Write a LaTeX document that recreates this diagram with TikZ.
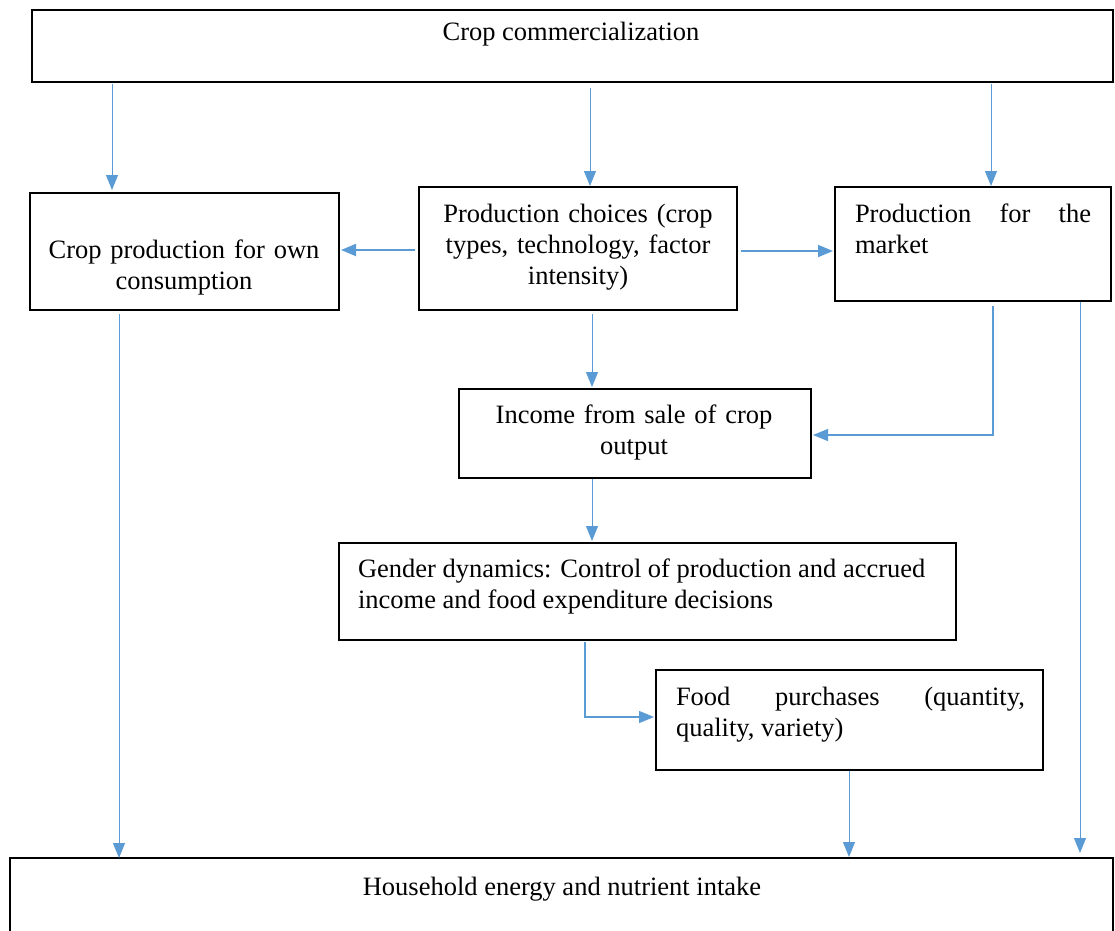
\documentclass[tikz,border=0pt]{standalone}
\usepackage{fontspec}
\setmainfont{Liberation Serif}
\usetikzlibrary{arrows.meta}
\definecolor{arrblue}{HTML}{5B9BD5}
\begin{document}
\begin{tikzpicture}[x=1pt,y=-1pt,
  box/.style={draw=black,line width=1.4pt,inner sep=0pt,outer sep=0pt,anchor=north west},
  txt/.style={inner sep=0pt,outer sep=0pt,font=\fontsize{26.5}{31}\selectfont},
  arr/.style={draw=arrblue,line width=1.3pt,-{Triangle[length=15pt,width=12pt]}}]
\useasboundingbox (0,0) rectangle (1115,930);
\clip (0,0) rectangle (1115,930);
% boxes
\node[box,minimum width=1081pt,minimum height=72pt] (top) at (32,10) {};
\node[box,minimum width=309pt,minimum height=117pt] (own) at (30,193) {};
\node[box,minimum width=318pt,minimum height=123pt] (choice) at (419,187) {};
\node[box,minimum width=276pt,minimum height=114pt] (market) at (835,187) {};
\node[box,minimum width=352pt,minimum height=89pt] (income) at (459,389) {};
\node[box,minimum width=617pt,minimum height=97pt] (gender) at (339,543) {};
\node[box,minimum width=387pt,minimum height=100pt] (food) at (656,670) {};
\node[box,minimum width=1103pt,minimum height=80pt] (house) at (10,858) {};
% texts
\node[txt,anchor=base] (ttop) at (571,40) {Crop commercialization};
\node[txt,anchor=base,align=center,text width=300pt] (town) at (184,258) {Crop production for own\\consumption};
\node[txt,anchor=base,align=center,text width=310pt] (tchoice) at (578,222) {Production choices (crop\\types, technology, factor\\intensity)};
\node[txt,anchor=base west,align=flush left,text width=236pt] (tmarket) at (855,222) {Production\hfill for\hfill the\\market};
\node[txt,anchor=base,align=center,text width=340pt] (tincome) at (634,423) {Income from sale of crop\\output};
\node[txt,anchor=base west,align=flush left,text width=590pt] (tgender) at (358,577) {Gender dynamics: Control of production and accrued\\income and food expenditure decisions};
\node[txt,anchor=base west,align=flush left,text width=349pt] (tfood) at (676,705) {Food\hfill purchases\hfill (quantity,\\quality, variety)};
\node[txt,anchor=base] (thouse) at (562,895) {Household energy and nutrient intake};
% x references
\coordinate (x112) at (112,0);
\coordinate (x590) at (590,0);
\coordinate (x991) at (991,0);
\coordinate (x592) at (592,0);
\coordinate (x993) at (993,0);
\coordinate (x585) at (585,0);
\coordinate (x849) at (849,0);
\coordinate (x119) at (119,0);
\coordinate (x1080) at (1080,0);
\coordinate (y250) at (0,250);
\coordinate (y251) at (0,251);
\coordinate (y435) at (0,435);
\coordinate (y717) at (0,717);
\coordinate (bend1) at (993,435);
\coordinate (bend2) at (585,717);
\coordinate (end12) at (1080,853);
% connectors
\draw[arr,line width=1pt,shorten <=2pt,shorten >=3pt] (top.south -| x112) -- (own.north -| x112);
\draw[arr,line width=1pt,shorten <=6pt,shorten >=1pt] (top.south -| x590) -- (choice.north -| x590);
\draw[arr,line width=1pt,shorten <=2pt,shorten >=1pt] (top.south -| x991) -- (market.north -| x991);
\draw[arr,line width=1.8pt,shorten <=4pt,shorten >=2pt] (choice.west |- y250) -- (own.east |- y250);
\draw[arr,line width=1.8pt,shorten <=4pt,shorten >=2pt] (choice.east |- y251) -- (market.west |- y251);
\draw[arr,line width=1pt,shorten <=4pt,shorten >=2pt] (choice.south -| x592) -- (income.north -| x592);
\draw[arr,line width=1.2pt,shorten <=5pt,shorten >=2pt] (market.south -| x993) -- (bend1) -- (income.east |- y435);
\draw[arr,line width=1pt,shorten <=1pt,shorten >=2pt] (income.south -| x592) -- (gender.north -| x592);
\draw[arr,line width=1.2pt,shorten <=2pt,shorten >=2pt] (gender.south -| x585) -- (bend2) -- (food.west |- y717);
\draw[arr,line width=1pt,shorten <=1pt,shorten >=1pt] (food.south -| x849) -- (house.north -| x849);
\draw[arr,line width=1pt,shorten <=4pt,shorten >=0pt] (own.south -| x119) -- (house.north -| x119);
\draw[arr,line width=1pt,shorten <=1pt] (market.south -| x1080) -- (end12);
\end{tikzpicture}
\end{document}
